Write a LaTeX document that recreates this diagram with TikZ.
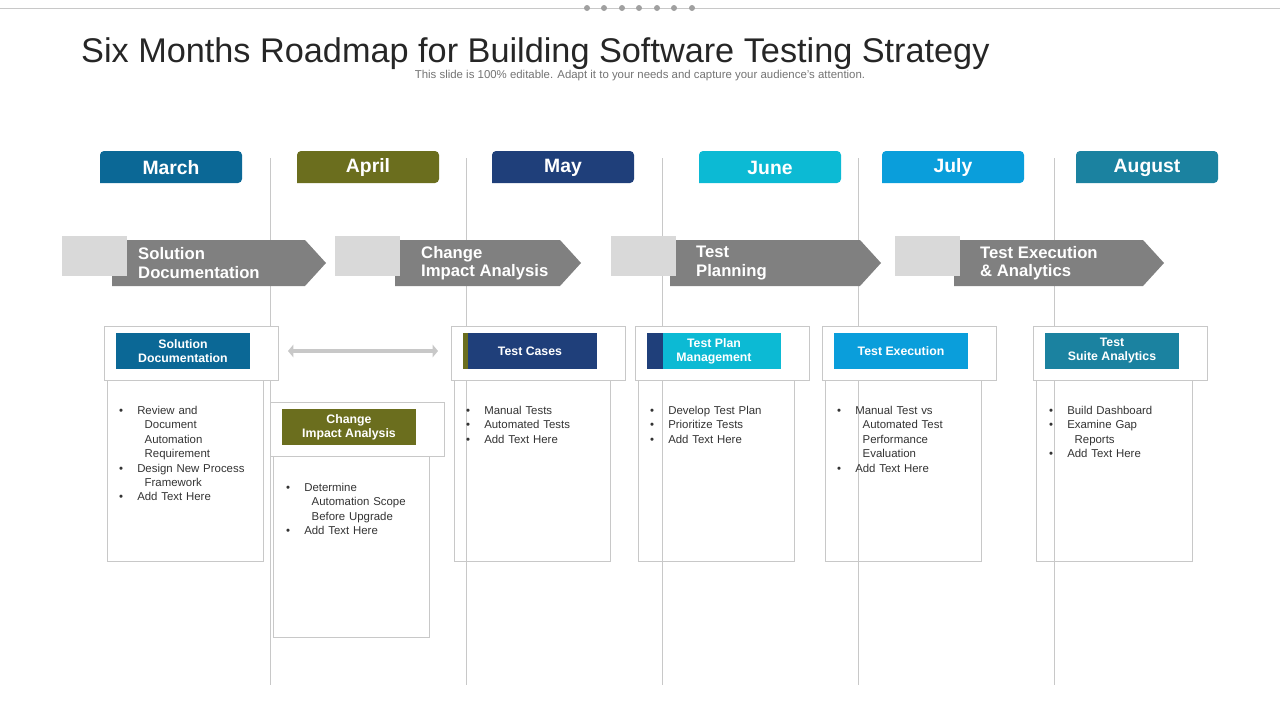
\documentclass[tikz,border=0pt]{standalone}
\usepackage{fontspec}
\setmainfont{Liberation Sans}
\usetikzlibrary{arrows.meta}
\definecolor{cMarch}{RGB}{11,104,150}
\definecolor{cApril}{RGB}{107,110,30}
\definecolor{cMay}{RGB}{31,63,122}
\definecolor{cJune}{RGB}{12,186,212}
\definecolor{cJuly}{RGB}{10,158,219}
\definecolor{cAug}{RGB}{27,130,160}
\definecolor{cStep}{RGB}{128,128,128}
\definecolor{cPale}{RGB}{217,217,217}
\definecolor{cRule}{RGB}{200,200,200}
\tikzset{
  monthtab/.style = {rounded corners = 0.8mm, font = \fontsize{11}{12}\selectfont\bfseries, text = white},
  headbox/.style = {draw = cRule, fill = white},
  tagbox/.style = {font = \fontsize{7}{8}\selectfont\bfseries, text = white, align = center},
  pointtext/.style = {font = \fontsize{6.5}{8.2}\selectfont, text = black!80, align = left, anchor = north west, text width = 3cm},
  steptext/.style = {font = \fontsize{9.5}{10.5}\selectfont\bfseries, text = white, align = left, anchor = west},
}
\begin{document}
\begin{tikzpicture}[x=0.02cm, y=-0.02cm]
  \useasboundingbox (0,0) rectangle (1280,720);
  %% top rule with dots
  \draw [cRule] (0,8) -- (1280,8);
  \foreach \dx in {587,604,622,639,657,674,692}
    \fill [cRule!80!black] (\dx,8) circle (3);
  %% title
  \node [anchor = base west, font = \fontsize{19.5}{22}\selectfont, text = black!85] (title) at (75,62)
    {Six Months Roadmap for Building Software Testing Strategy};
  \node [font = \fontsize{6.5}{8}\selectfont, text = black!55] (subtitle) at (640,76)
    {This slide is 100\% editable. Adapt it to your needs and capture your audience's attention.};
  %% separators
  \foreach \lx in {270,466,662,858,1054}
    \draw [cRule] (\lx,158) -- (\lx,685);
  %% month tabs
  \foreach \mx/\mc/\mn/\ml in {100/cMarch/mar/March, 297/cApril/apr/April, 492/cMay/may/May,
      699/cJune/jun/June, 882/cJuly/jul/July, 1076/cAug/aug/August}
  {
    \fill [\mc, rounded corners = 0.8mm] (\mx,183) -- (\mx,151) -- ({\mx+142},151) -- ({\mx+142},183) [sharp corners] -- cycle;
    \node [monthtab] (\mn) at ({\mx+71},167.5) {\ml};
  }
  %% step arrows
  \foreach \sx/\se/\px/\sn/\st in {112/305/62/stepa/{Solution\\Documentation},
      395/560/335/stepb/{Change\\Impact Analysis},
      670/860/611/stepc/{Test\\Planning},
      954/1143/895/stepd/{Test Execution\\\& Analytics}}
  {
    \fill [cStep] (\sx,240) -- (\se,240) -- ({\se+21},263) -- (\se,286) -- (\sx,286) -- cycle;
    \fill [cPale] (\px,236) rectangle ({\px+65},276);
    \node [steptext] (\sn) at ({\sx+20},263) {\st};
  }
  %% header boxes and point lists
  \foreach \bx/\by/\bc/\bn/\bt in {104/326/cMarch/taga/{Solution\\Documentation},
      270/402/cApril/tagb/{Change\\Impact Analysis},
      451/326/cMay/tagc/{Test Cases},
      635/326/cJune/tagd/{Test Plan\\Management},
      822/326/cJuly/tage/{Test Execution},
      1033/326/cAug/tagf/{Test\\Suite Analytics}}
  {
    \draw [cRule] ({\bx+3},{\by+54}) rectangle ({\bx+159},{\by+235});
    \draw [headbox] (\bx,\by) rectangle ({\bx+174},{\by+54});
    \fill [\bc] ({\bx+12},{\by+7}) rectangle ({\bx+146},{\by+43});
    \node [tagbox] (\bn) at ({\bx+79},{\by+25}) {\bt};
  }
  \fill [cApril] (463,333) rectangle (468,369);
  \fill [cMay] (647,333) rectangle (663,369);
  \draw [cRule, line width = 2.5pt, {Triangle[length=3pt,width=7pt]}-{Triangle[length=3pt,width=7pt]}] (288,351) -- (438,351);
  %% points
  \node [pointtext] (ptsa) at (113,400) {\textbullet\hspace{8pt}Review and\\\hspace{14.5pt}Document\\\hspace{14.5pt}Automation\\\hspace{14.5pt}Requirement\\\textbullet\hspace{8pt}Design New Process\\\hspace{14.5pt}Framework\\\textbullet\hspace{8pt}Add Text Here};
  \node [pointtext] (ptsb) at (280,477) {\textbullet\hspace{8pt}Determine\\\hspace{14.5pt}Automation Scope\\\hspace{14.5pt}Before Upgrade\\\textbullet\hspace{8pt}Add Text Here};
  \node [pointtext] (ptsc) at (460,400) {\textbullet\hspace{8pt}Manual Tests\\\textbullet\hspace{8pt}Automated Tests\\\textbullet\hspace{8pt}Add Text Here};
  \node [pointtext] (ptsd) at (644,400) {\textbullet\hspace{8pt}Develop Test Plan\\\textbullet\hspace{8pt}Prioritize Tests\\\textbullet\hspace{8pt}Add Text Here};
  \node [pointtext] (ptse) at (831,400) {\textbullet\hspace{8pt}Manual Test vs\\\hspace{14.5pt}Automated Test\\\hspace{14.5pt}Performance\\\hspace{14.5pt}Evaluation\\\textbullet\hspace{8pt}Add Text Here};
  \node [pointtext] (ptsf) at (1043,400) {\textbullet\hspace{8pt}Build Dashboard\\\textbullet\hspace{8pt}Examine Gap\\\hspace{14.5pt}Reports\\\textbullet\hspace{8pt}Add Text Here};
\end{tikzpicture}
\end{document}
